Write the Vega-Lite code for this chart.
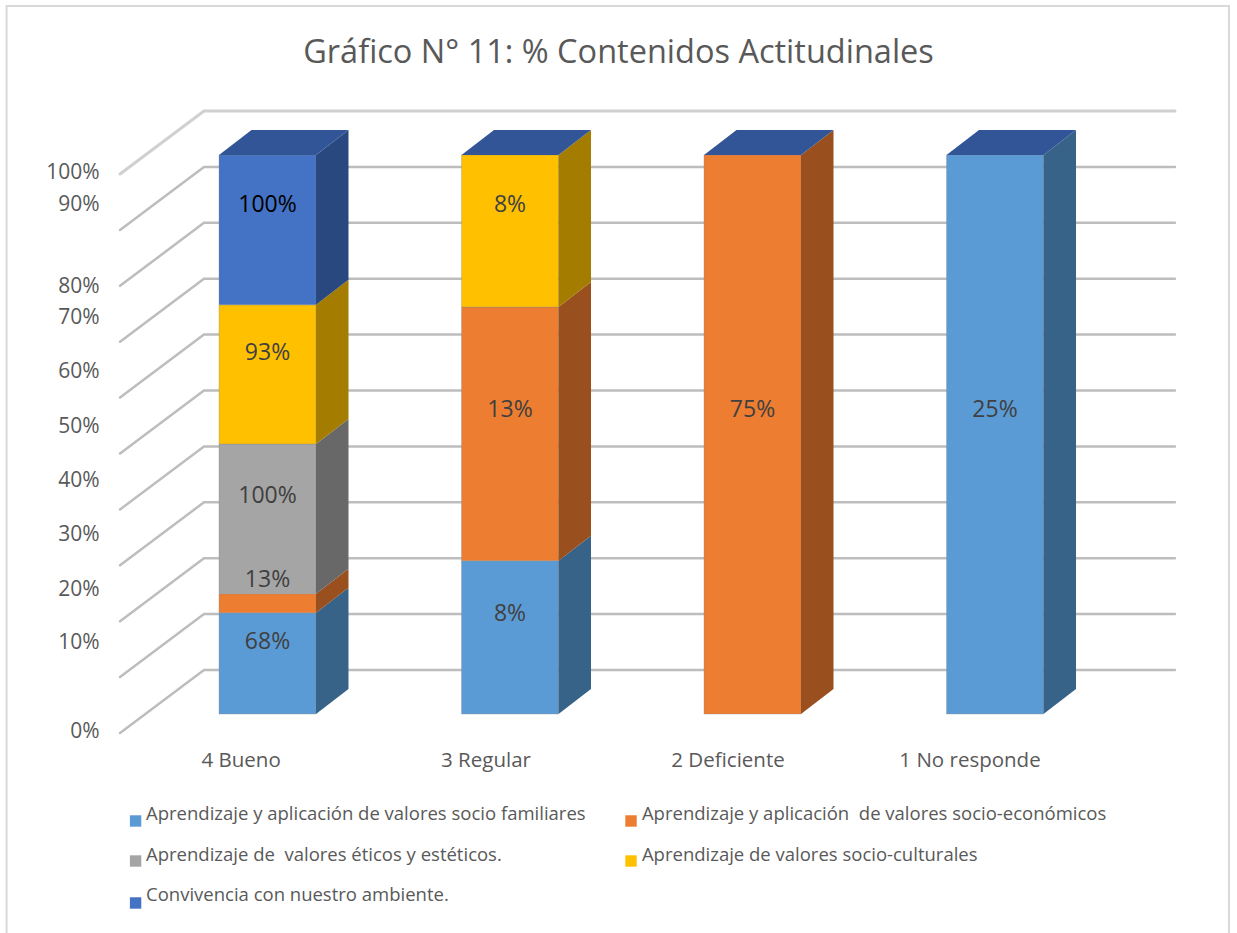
{
"$schema":"https://vega.github.io/schema/vega-lite/v6.json",
"width":1237,"height":933,"padding":0,
"autosize":{"type":"fit","contains":"padding"},
"background":"white",
"view":{"stroke":null},
"title":{"text":"Gráfico N° 11: % Contenidos Actitudinales","anchor":"middle","offset":-69,"font":"Open Sans","fontSize":32.5,"fontWeight":"normal","color":"#595959"},
"config":{"font":"Open Sans"},
"datasets":{
"frame":[{"s":1,"x":-1.076,"y":-39.18},{"s":2,"x":-1.076,"y":126.65},{"s":3,"x":3.965,"y":126.65},{"s":4,"x":3.965,"y":-39.18}],
"grid":[
{"level":0,"s":1,"x":-0.608,"y":-3.4},{"level":0,"s":2,"x":-0.262,"y":7.87},{"level":0,"s":3,"x":3.742,"y":7.87},
{"level":10,"s":1,"x":-0.608,"y":6.6},{"level":10,"s":2,"x":-0.262,"y":17.87},{"level":10,"s":3,"x":3.742,"y":17.87},
{"level":20,"s":1,"x":-0.608,"y":16.6},{"level":20,"s":2,"x":-0.262,"y":27.87},{"level":20,"s":3,"x":3.742,"y":27.87},
{"level":30,"s":1,"x":-0.608,"y":26.6},{"level":30,"s":2,"x":-0.262,"y":37.87},{"level":30,"s":3,"x":3.742,"y":37.87},
{"level":40,"s":1,"x":-0.608,"y":36.6},{"level":40,"s":2,"x":-0.262,"y":47.87},{"level":40,"s":3,"x":3.742,"y":47.87},
{"level":50,"s":1,"x":-0.608,"y":46.6},{"level":50,"s":2,"x":-0.262,"y":57.87},{"level":50,"s":3,"x":3.742,"y":57.87},
{"level":60,"s":1,"x":-0.608,"y":56.6},{"level":60,"s":2,"x":-0.262,"y":67.87},{"level":60,"s":3,"x":3.742,"y":67.87},
{"level":70,"s":1,"x":-0.608,"y":66.6},{"level":70,"s":2,"x":-0.262,"y":77.87},{"level":70,"s":3,"x":3.742,"y":77.87},
{"level":80,"s":1,"x":-0.608,"y":76.6},{"level":80,"s":2,"x":-0.262,"y":87.87},{"level":80,"s":3,"x":3.742,"y":87.87},
{"level":90,"s":1,"x":-0.608,"y":86.6},{"level":90,"s":2,"x":-0.262,"y":97.87},{"level":90,"s":3,"x":3.742,"y":97.87}
],
"gridtop":[
{"level":100,"s":1,"x":-0.608,"y":96.6},{"level":100,"s":2,"x":-0.262,"y":107.87},{"level":100,"s":3,"x":3.742,"y":107.87}
],
"bars":[
{"cat":"4 Bueno","series":"A","xa":-0.2,"xb":0.2,"start":0,"end":18.1,"label":"68%","lx":0,"ly":13.24},
{"cat":"4 Bueno","series":"B","xa":-0.2,"xb":0.2,"start":18.1,"end":21.5,"label":"13%","lx":0,"ly":24.33},
{"cat":"4 Bueno","series":"C","xa":-0.2,"xb":0.2,"start":21.5,"end":48.3,"label":"100%","lx":0,"ly":39.36},
{"cat":"4 Bueno","series":"D","xa":-0.2,"xb":0.2,"start":48.3,"end":73.2,"label":"93%","lx":0,"ly":64.94},
{"cat":"4 Bueno","series":"E","xa":-0.2,"xb":0.2,"start":73.2,"end":100,"label":"100%","lx":0,"ly":91.41},
{"cat":"3 Regular","series":"A","xa":0.8,"xb":1.2,"start":0,"end":27.4,"label":"8%","lx":1,"ly":18.25},
{"cat":"3 Regular","series":"B","xa":0.8,"xb":1.2,"start":27.4,"end":72.8,"label":"13%","lx":1,"ly":54.74},
{"cat":"3 Regular","series":"D","xa":0.8,"xb":1.2,"start":72.8,"end":100,"label":"8%","lx":1,"ly":91.41},
{"cat":"2 Deficiente","series":"B","xa":1.8,"xb":2.2,"start":0,"end":100,"label":"75%","lx":2,"ly":54.74},
{"cat":"1 No responde","series":"A","xa":2.8,"xb":3.2,"start":0,"end":100,"label":"25%","lx":3,"ly":54.74}
],
"sides":[
{"seg":"0A","series":"A","x":0.2,"lo":0,"hi":18.1},{"seg":"0A","series":"A","x":0.334,"lo":4.47,"hi":22.57},
{"seg":"0B","series":"B","x":0.2,"lo":18.1,"hi":21.5},{"seg":"0B","series":"B","x":0.334,"lo":22.57,"hi":25.97},
{"seg":"0C","series":"C","x":0.2,"lo":21.5,"hi":48.3},{"seg":"0C","series":"C","x":0.334,"lo":25.97,"hi":52.77},
{"seg":"0D","series":"D","x":0.2,"lo":48.3,"hi":73.2},{"seg":"0D","series":"D","x":0.334,"lo":52.77,"hi":77.67},
{"seg":"0E","series":"E","x":0.2,"lo":73.2,"hi":100},{"seg":"0E","series":"E","x":0.334,"lo":77.67,"hi":104.47},
{"seg":"1A","series":"A","x":1.2,"lo":0,"hi":27.4},{"seg":"1A","series":"A","x":1.334,"lo":4.47,"hi":31.87},
{"seg":"1B","series":"B","x":1.2,"lo":27.4,"hi":72.8},{"seg":"1B","series":"B","x":1.334,"lo":31.87,"hi":77.27},
{"seg":"1D","series":"D","x":1.2,"lo":72.8,"hi":100},{"seg":"1D","series":"D","x":1.334,"lo":77.27,"hi":104.47},
{"seg":"2B","series":"B","x":2.2,"lo":0,"hi":100},{"seg":"2B","series":"B","x":2.334,"lo":4.47,"hi":104.47},
{"seg":"3A","series":"A","x":3.2,"lo":0,"hi":100},{"seg":"3A","series":"A","x":3.334,"lo":4.47,"hi":104.47}
],
"tops":[
{"cat":"4 Bueno","y":100,"xa":-0.2,"xb":0.2},{"cat":"4 Bueno","y":104.47,"xa":-0.066,"xb":0.334},
{"cat":"3 Regular","y":100,"xa":0.8,"xb":1.2},{"cat":"3 Regular","y":104.47,"xa":0.934,"xb":1.334},
{"cat":"2 Deficiente","y":100,"xa":1.8,"xb":2.2},{"cat":"2 Deficiente","y":104.47,"xa":1.934,"xb":2.334},
{"cat":"1 No responde","y":100,"xa":2.8,"xb":3.2},{"cat":"1 No responde","y":104.47,"xa":2.934,"xb":3.334}
],
"ticks":[
{"t":"100%","x":-0.692,"y":97.14},{"t":"90%","x":-0.692,"y":91.41},{"t":"80%","x":-0.692,"y":76.74},{"t":"70%","x":-0.692,"y":71.2},{"t":"60%","x":-0.692,"y":61.54},{"t":"50%","x":-0.692,"y":51.7},{"t":"40%","x":-0.692,"y":42.04},{"t":"30%","x":-0.692,"y":32.38},{"t":"20%","x":-0.692,"y":22.54},{"t":"10%","x":-0.692,"y":13.06},{"t":"0%","x":-0.692,"y":-2.86}
],
"cats":[
{"t":"4 Bueno","x":-0.109,"y":-8.23},{"t":"3 Regular","x":0.901,"y":-8.23},{"t":"2 Deficiente","x":1.899,"y":-8.23},{"t":"1 No responde","x":2.897,"y":-8.23}
],
"legend":[
{"series":"A","t":"Aprendizaje y aplicación de valores socio familiares","sx":-0.544,"sy":-19.14,"tx":-0.501,"ty":-17.71},
{"series":"B","t":"Aprendizaje y aplicación \u00a0de valores socio-económicos","sx":1.499,"sy":-19.14,"tx":1.544,"ty":-17.71},
{"series":"C","t":"Aprendizaje de \u00a0valores éticos y estéticos.","sx":-0.544,"sy":-26.3,"tx":-0.501,"ty":-25.04},
{"series":"D","t":"Aprendizaje de valores socio-culturales","sx":1.499,"sy":-26.3,"tx":1.544,"ty":-25.04},
{"series":"E","t":"Convivencia con nuestro ambiente.","sx":-0.544,"sy":-33.81,"tx":-0.501,"ty":-32.2}
]
},
"layer":[
{"data":{"name":"frame"},"mark":{"type":"line","stroke":"#d9d9d9","strokeWidth":2,"clip":true},
 "encoding":{"x":{"field":"x","type":"quantitative","scale":{"domain":[-1.1031,3.9979],"nice":false,"zero":false},"axis":null},"y":{"field":"y","type":"quantitative","scale":{"domain":[-39.18,127.73],"nice":false,"zero":false},"axis":null},"order":{"field":"s"}}},
{"data":{"name":"grid"},"mark":{"type":"line","stroke":"#bdbdbd","strokeWidth":2.5,"strokeCap":"round"},
 "encoding":{"x":{"field":"x","type":"quantitative"},"y":{"field":"y","type":"quantitative"},"detail":{"field":"level"},"order":{"field":"s"}}},
{"data":{"name":"gridtop"},"mark":{"type":"line","stroke":"#d0d0d0","strokeWidth":3,"strokeCap":"round"},
 "encoding":{"x":{"field":"x","type":"quantitative"},"y":{"field":"y","type":"quantitative"},"detail":{"field":"level"},"order":{"field":"s"}}},
{"data":{"name":"bars"},"mark":{"type":"bar","stroke":"#8c8c8c","strokeOpacity":0.35,"strokeWidth":1},
 "encoding":{"x":{"field":"xa","type":"quantitative"},"x2":{"field":"xb"},"y":{"field":"start","type":"quantitative"},"y2":{"field":"end"},
 "color":{"field":"series","type":"nominal","legend":null,"scale":{"domain":["A","B","C","D","E"],"range":["#5b9bd5","#ed7d31","#a5a5a5","#ffc000","#4472c4"]}}}},
{"data":{"name":"sides"},"mark":{"type":"area","opacity":1},
 "encoding":{"x":{"field":"x","type":"quantitative"},"y":{"field":"lo","type":"quantitative"},"y2":{"field":"hi"},"detail":{"field":"seg"},
 "color":{"field":"series","type":"nominal","legend":null,"scale":{"domain":["A","B","C","D","E"],"range":["#376388","#9a4f1e","#686868","#a37c00","#2a4880"]}}}},
{"data":{"name":"tops"},"mark":{"type":"area","orient":"horizontal","color":"#315596"},
 "encoding":{"y":{"field":"y","type":"quantitative"},"x":{"field":"xa","type":"quantitative"},"x2":{"field":"xb"},"detail":{"field":"cat"}}},
{"data":{"name":"bars"},"mark":{"type":"text","fontSize":23,"baseline":"middle","align":"center","dy":2},
 "encoding":{"x":{"field":"lx","type":"quantitative"},"y":{"field":"ly","type":"quantitative"},"text":{"field":"label"},
 "color":{"condition":{"test":"datum.series==='E'","value":"#000000"},"value":"#404040"}}},
{"data":{"name":"ticks"},"mark":{"type":"text","fontSize":21,"baseline":"middle","align":"right","color":"#595959","dy":2},
 "encoding":{"x":{"field":"x","type":"quantitative"},"y":{"field":"y","type":"quantitative"},"text":{"field":"t"}}},
{"data":{"name":"cats"},"mark":{"type":"text","fontSize":20.5,"baseline":"middle","align":"center","color":"#595959","dy":1},
 "encoding":{"x":{"field":"x","type":"quantitative"},"y":{"field":"y","type":"quantitative"},"text":{"field":"t"}}},
{"data":{"name":"legend"},"mark":{"type":"point","shape":"square","filled":true,"size":130,"opacity":1},
 "encoding":{"x":{"field":"sx","type":"quantitative"},"y":{"field":"sy","type":"quantitative"},
 "color":{"field":"series","type":"nominal","legend":null,"scale":{"domain":["A","B","C","D","E"],"range":["#5b9bd5","#ed7d31","#a5a5a5","#ffc000","#4472c4"]}}}},
{"data":{"name":"legend"},"mark":{"type":"text","fontSize":18.5,"baseline":"middle","align":"left","color":"#595959","dy":1},
 "encoding":{"x":{"field":"tx","type":"quantitative"},"y":{"field":"ty","type":"quantitative"},"text":{"field":"t"}}}
],
"resolve":{"scale":{"color":"independent"}}
}
